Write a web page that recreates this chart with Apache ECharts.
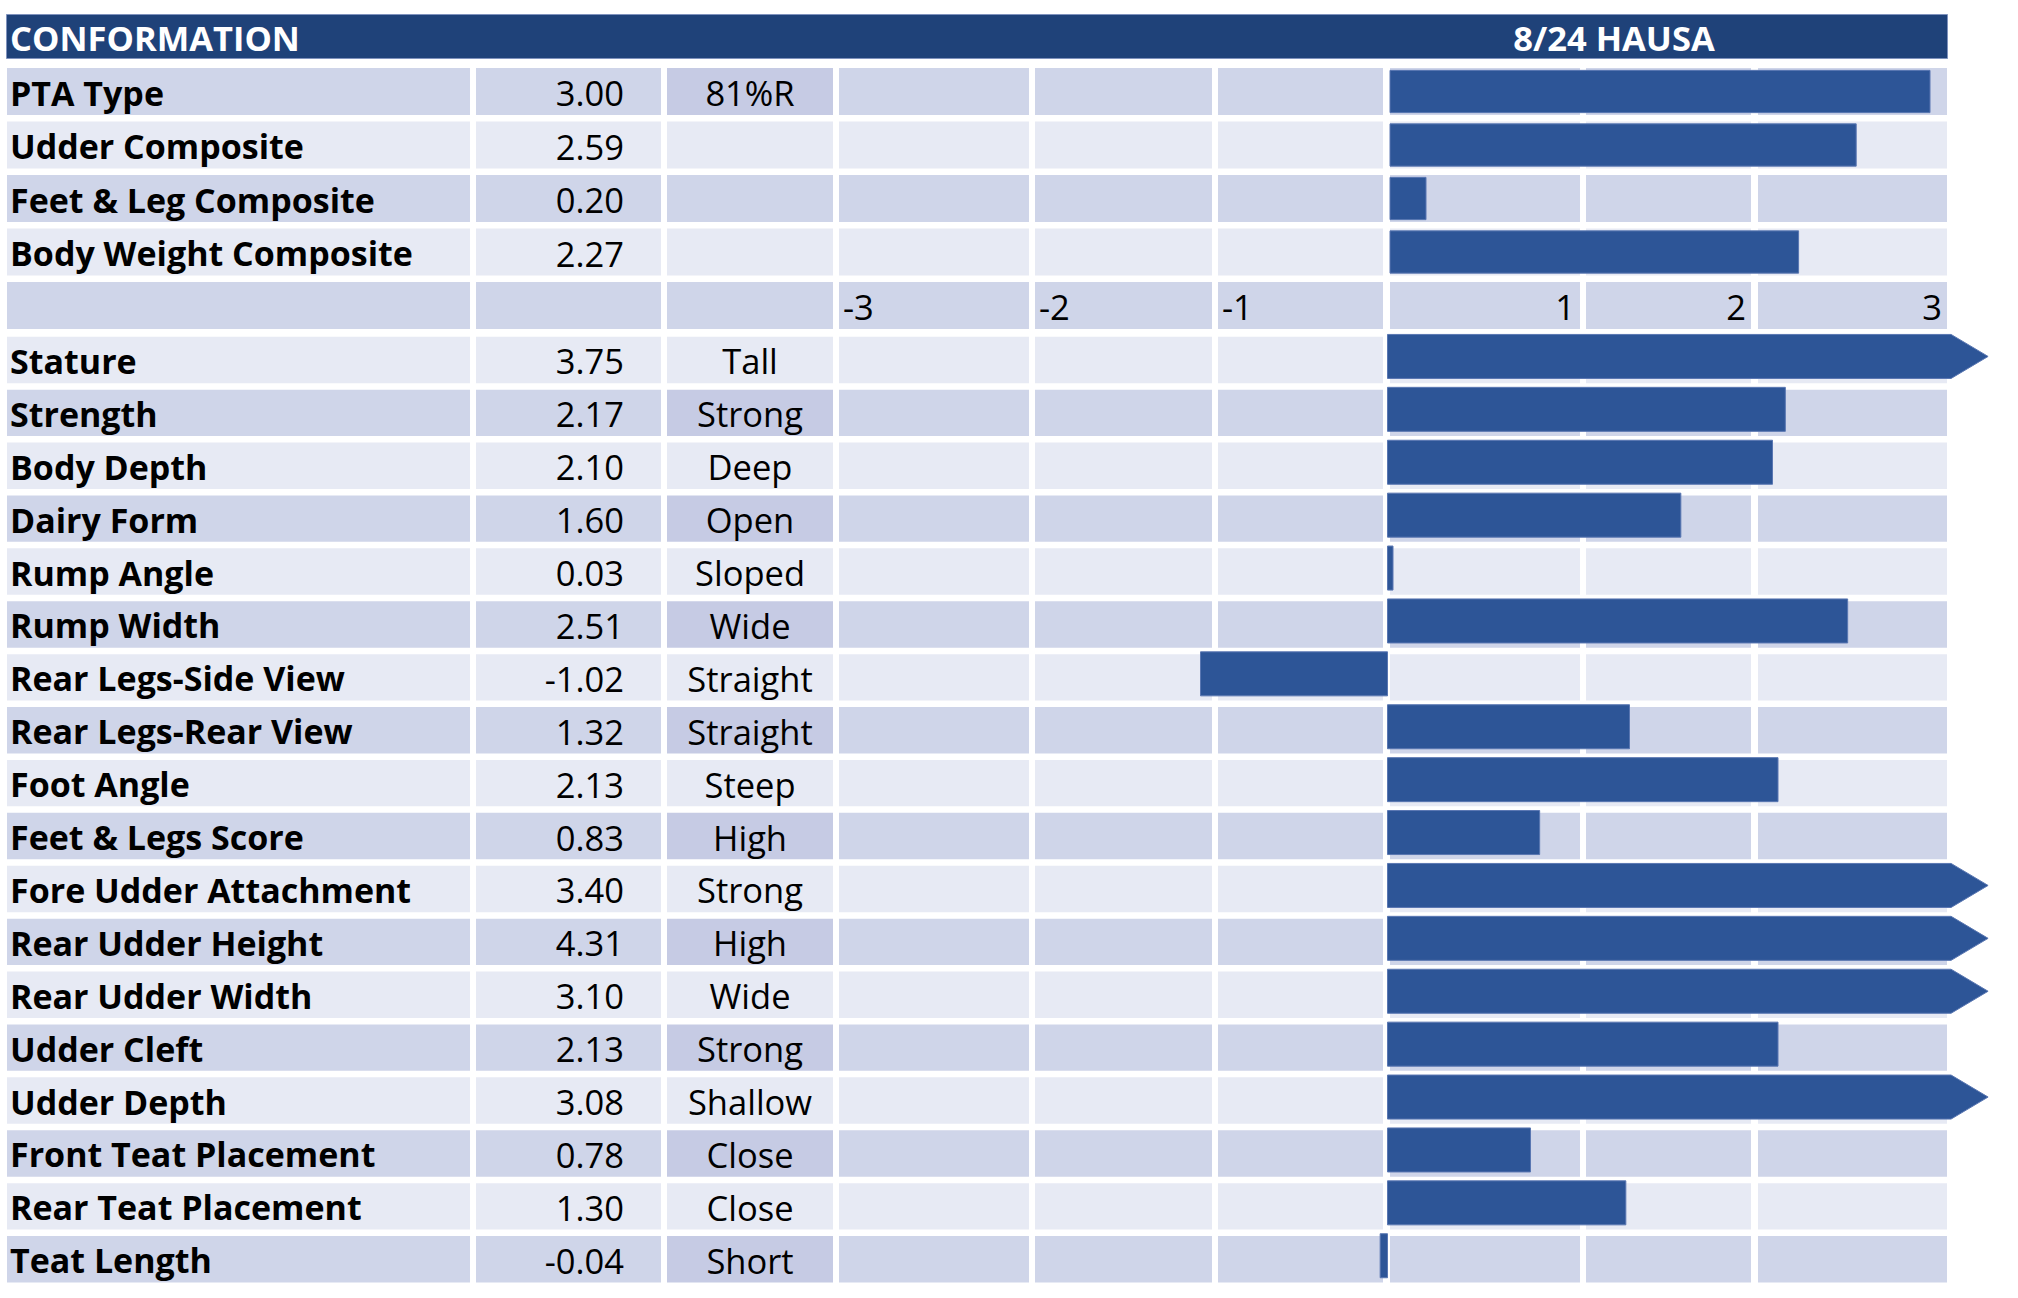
<!DOCTYPE html>
<html><head><meta charset="utf-8">
<script src="https://cdn.jsdelivr.net/npm/echarts@6/dist/echarts.min.js"></script>
<style>html,body{margin:0;padding:0;background:#fff}#chart{width:2018px;height:1298px}</style>
</head><body><div id="chart"></div>
<script>
// ---------------- data ----------------
const headerLeft = 'CONFORMATION';
const headerRight = '8/24 HAUSA';

const compositeTraits = ['PTA Type', 'Udder Composite', 'Feet & Leg Composite', 'Body Weight Composite'];
const compositeValues = [3.00, 2.59, 0.20, 2.27];
const compositeNotes = ['81%R', '', '', ''];

const tickLabels = ['-3', '-2', '-1', '1', '2', '3'];

const linearTraits = ['Stature', 'Strength', 'Body Depth', 'Dairy Form', 'Rump Angle', 'Rump Width',
  'Rear Legs-Side View', 'Rear Legs-Rear View', 'Foot Angle', 'Feet & Legs Score',
  'Fore Udder Attachment', 'Rear Udder Height', 'Rear Udder Width', 'Udder Cleft',
  'Udder Depth', 'Front Teat Placement', 'Rear Teat Placement', 'Teat Length'];
const linearValues = [3.75, 2.17, 2.10, 1.60, 0.03, 2.51, -1.02, 1.32, 2.13, 0.83,
  3.40, 4.31, 3.10, 2.13, 3.08, 0.78, 1.30, -0.04];
const linearDescriptors = ['Tall', 'Strong', 'Deep', 'Open', 'Sloped', 'Wide', 'Straight', 'Straight',
  'Steep', 'High', 'Strong', 'High', 'Wide', 'Strong', 'Shallow', 'Close', 'Close', 'Short'];

// ---------------- layout & style ----------------
const FONT = '"Open Sans", Lato, sans-serif';
const FS = 34.5, FS_BOLD = 34, FS_HEAD = 34.5;
const COLS = [[7, 470], [476, 661], [667, 833], [839, 1029], [1035, 1212], [1218, 1383], [1390, 1580], [1586, 1751], [1758, 1947]];
const GAP = 6.5;
const C_DARK = '#CFD5E9', C_LIGHT = '#E7EAF4', C_DESC_DARK = '#C6CBE4';
const C_HEAD = '#1F4279', C_BAR = '#2D5597', C_BAR_EDGE = '#5A77B2';
const TOP = { top: 64.75, pitch: 53.5 };
const BOT = { top: 333.5, pitch: 52.9 };

// rows of the table sections
const topRows = compositeTraits.map((t, i) => ({ name: t, value: compositeValues[i].toFixed(2), note: compositeNotes[i] }));
topRows.push({ axisRow: true, name: '', value: '', note: '' });
const botRows = linearTraits.map((t, i) => ({ name: t, value: linearValues[i].toFixed(2), note: linearDescriptors[i] }));

function cellData(rows) {
  const d = [];
  rows.forEach((r, ri) => { for (let c = 0; c < COLS.length; c++) d.push([0, ri, c]); });
  return d;
}

function cellRenderer(rows, parityOffset) {
  return function (params, api) {
    const ri = api.value(1), c = api.value(2);
    const row = rows[ri];
    const [x0, x1] = COLS[c];
    const p0 = api.coord([x0, ri]);
    const p1 = api.coord([x1, ri]);
    const band = api.size([0, 1])[1];
    const h = band - GAP;
    const dark = ((ri + parityOffset) % 2) === 0;
    let fill = dark ? C_DARK : C_LIGHT;
    if (dark && c === 2 && row.note) fill = C_DESC_DARK;
    const children = [{
      type: 'rect',
      shape: { x: p0[0], y: p0[1] - h / 2, width: p1[0] - p0[0], height: h },
      style: { fill: fill }
    }];
    let text = '', align = 'left', tx = p0[0] + 4, bold = false;
    if (row.axisRow) {
      if (c >= 3) {
        text = tickLabels[c - 3];
        if (c <= 5) { align = 'left'; tx = p0[0] + 4; }
        else { align = 'right'; tx = p1[0] - 5; }
      }
    } else if (c === 0) { text = row.name; bold = true; tx = p0[0] + 3; }
    else if (c === 1) { text = row.value; align = 'right'; tx = p1[0] - 37; }
    else if (c === 2) { text = row.note; align = 'center'; tx = (p0[0] + p1[0]) / 2; }
    if (text) {
      children.push({
        type: 'text', x: tx, y: p0[1] + 1,
        style: {
          text: text, fill: '#000',
          font: (bold ? 'bold ' + FS_BOLD : FS) + 'px ' + FONT,
          align: align, verticalAlign: 'middle',
          textAlign: align, textVerticalAlign: 'middle'
        }
      });
    }
    return { type: 'group', children: children };
  };
}

function barRenderer(axisMax, heightRatio, offset) {
  return function (params, api) {
    const v = api.value(0), r = api.value(1);
    const c0 = api.coord([0, r]);
    const band = api.size([0, 1])[1];
    const h = band * heightRatio;
    const yc = c0[1] + offset;
    const top = yc - h / 2, bot = yc + h / 2;
    const style = { fill: C_BAR, stroke: C_BAR_EDGE, lineWidth: 1 };
    if (v > axisMax) {
      const xe = api.coord([axisMax + 0.074, r])[0];
      const xt = api.coord([axisMax + 0.276, r])[0];
      return {
        type: 'polygon',
        shape: { points: [[c0[0], top], [xe, top], [xt, yc], [xe, bot], [c0[0], bot]] },
        style: style
      };
    }
    const x1 = api.coord([v, r])[0];
    return {
      type: 'rect',
      shape: { x: Math.min(c0[0], x1), y: top, width: Math.abs(x1 - c0[0]), height: h },
      style: style
    };
  };
}

const topH = TOP.pitch * topRows.length;
const botH = BOT.pitch * botRows.length;
const chart = echarts.init(document.getElementById('chart'), null, { renderer: 'svg' });

const option = {
  animation: false,
  backgroundColor: '#fff',
  grid: [
    { left: 0, right: 0, top: TOP.top, height: topH },                 // 0 table top
    { left: 0, right: 0, top: BOT.top, height: botH },                 // 1 table bottom
    { left: 1390, width: 540, top: TOP.top, height: topH },            // 2 composite bars (0..3)
    { left: 837.5, width: 1100, top: BOT.top, height: botH }           // 3 linear bars (-3..3)
  ],
  xAxis: [
    { gridIndex: 0, type: 'value', min: 0, max: 2018, show: false },
    { gridIndex: 1, type: 'value', min: 0, max: 2018, show: false },
    { gridIndex: 2, type: 'value', min: 0, max: 3, interval: 1, show: false },
    { gridIndex: 3, type: 'value', min: -3, max: 3, interval: 1, show: false }
  ],
  yAxis: [
    { gridIndex: 0, type: 'category', inverse: true, data: topRows.map((r, i) => r.name || ('axis' + i)), show: false },
    { gridIndex: 1, type: 'category', inverse: true, data: linearTraits, show: false },
    { gridIndex: 2, type: 'category', inverse: true, data: topRows.map((r, i) => r.name || ('axis' + i)), show: false },
    { gridIndex: 3, type: 'category', inverse: true, data: linearTraits, show: false }
  ],
  graphic: [
    { type: 'rect', left: 6, top: 14, shape: { width: 1941, height: 44 }, style: { fill: C_HEAD, stroke: '#7F92BD', lineWidth: 1 }, z: 10 },
    { type: 'text', x: 10, y: 37, style: { text: headerLeft, fill: '#fff', font: 'bold ' + FS_HEAD + 'px ' + FONT, align: 'left', verticalAlign: 'middle', textAlign: 'left', textVerticalAlign: 'middle' }, z: 11 },
    { type: 'text', x: 1614, y: 37, style: { text: headerRight, fill: '#fff', font: 'bold ' + FS_HEAD + 'px ' + FONT, align: 'center', verticalAlign: 'middle', textAlign: 'center', textVerticalAlign: 'middle' }, z: 11 }
  ],
  series: [
    { type: 'custom', xAxisIndex: 0, yAxisIndex: 0, clip: false, renderItem: cellRenderer(topRows, 0), data: cellData(topRows), z: 1 },
    { type: 'custom', xAxisIndex: 1, yAxisIndex: 1, clip: false, renderItem: cellRenderer(botRows, 1), data: cellData(botRows), z: 1 },
    { type: 'custom', xAxisIndex: 2, yAxisIndex: 2, clip: false, renderItem: barRenderer(3, 0.79, 0),
      data: compositeValues.map((v, i) => [v, i]), z: 5 },
    { type: 'custom', xAxisIndex: 3, yAxisIndex: 3, clip: false, renderItem: barRenderer(3, 0.832, -3.5),
      data: linearValues.map((v, i) => [v, i]), z: 5 }
  ]
};
chart.setOption(option);
</script>
</body></html>
